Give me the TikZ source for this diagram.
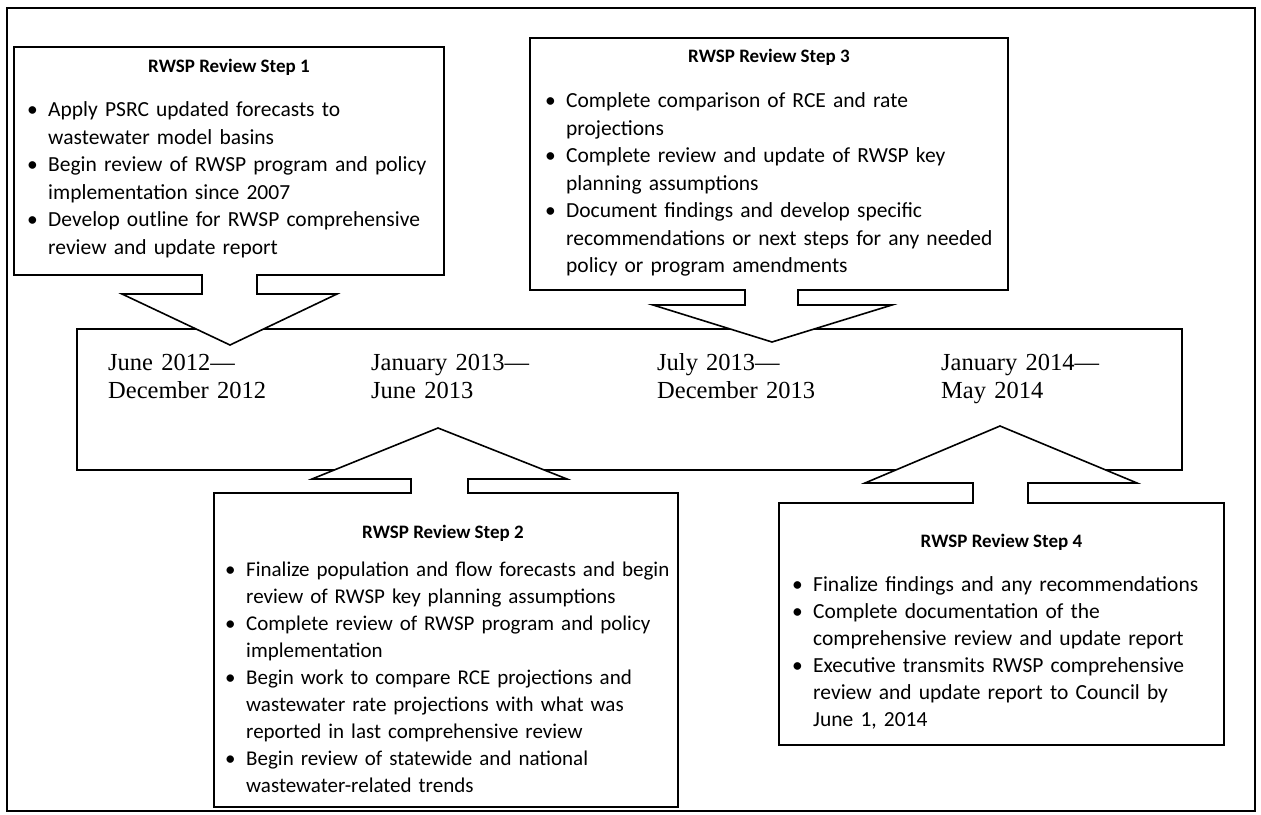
\documentclass[tikz,border=0pt]{standalone}
\usepackage{fontspec}
\newfontfamily\calfont{Carlito}
\newfontfamily\serfont{Liberation Serif}
\setlength{\parskip}{0pt}
\newcommand\bitem[1]{\par\hangindent=21pt\hangafter=1\noindent\makebox[21pt][l]{\textbullet}\vrule height 19pt depth 0pt width 0pt#1}
\newcommand\dstrut{\vrule height 20pt depth 0pt width 0pt}
\tikzset{
  shapeline/.style={draw=black, line width=1.6pt, fill=white, line join=miter},
  body/.style={anchor=north west, inner sep=0pt, text width=470pt, align=left,
    font=\calfont\fontsize{21.5}{27.5}\selectfont},
  bodytight/.style={body, font=\calfont\fontsize{21.5}{27}\selectfont},
  bodysmall/.style={body, font=\calfont\fontsize{21}{27}\selectfont},
  steptitle/.style={anchor=base, inner sep=0pt, font=\calfont\bfseries\fontsize{19}{22}\selectfont},
  datelabel/.style={anchor=north west, inner sep=0pt, text width=200pt, align=left,
    font=\serfont\fontsize{24.5}{28}\selectfont}
}
\begin{document}
\begin{tikzpicture}[x=1pt, y=-1pt]
\useasboundingbox[fill=white] (0,0) rectangle (1261,814);
% outer frame
\draw[line width=1.6pt] (7,8) rectangle (1255,811);
% timeline box
\draw[shapeline] (77,329) rectangle (1182,470);
% step 1 callout (down arrow)
\draw[shapeline] (14,47) -- (444,47) -- (444,275) -- (257,275) -- (257,294) -- (337,294)
  -- (230,345) -- (122,294) -- (202,294) -- (202,275) -- (14,275) -- cycle;
% step 3 callout (down arrow)
\draw[shapeline] (530,38) -- (1008,38) -- (1008,290) -- (798,290) -- (798,305) -- (892,305)
  -- (772,342) -- (653,305) -- (745,305) -- (745,290) -- (530,290) -- cycle;
% step 2 callout (up arrow)
\draw[shapeline] (214,807) -- (214,493) -- (411,493) -- (411,479) -- (312,479) -- (438,428)
  -- (567,479) -- (468,479) -- (468,493) -- (678,493) -- (678,807) -- cycle;
% step 4 callout (up arrow)
\draw[shapeline] (779,745) -- (779,503) -- (973,503) -- (973,483) -- (865,483) -- (1000,426)
  -- (1137,483) -- (1028,483) -- (1028,503) -- (1224,503) -- (1224,745) -- cycle;

% dates
\node[datelabel] (d1) at (108,350) {\dstrut June 2012\textemdash\newline December 2012};
\node[datelabel] (d2) at (371,350) {\dstrut January 2013\textemdash\newline June 2013};
\node[datelabel] (d3) at (657,350) {\dstrut July 2013\textemdash\newline December 2013};
\node[datelabel] (d4) at (941,350) {\dstrut January 2014\textemdash\newline May 2014};

% step 1
\node[steptitle] (t1) at (229,72) {RWSP Review Step 1};
\node[body] (b1) at (27,89) {%
\bitem{Apply PSRC updated forecasts to\newline wastewater model basins}
\bitem{Begin review of RWSP program and policy\newline implementation since 2007}
\bitem{Develop outline for RWSP comprehensive\newline review and update report}\par};

% step 3
\node[steptitle] (t3) at (769,62) {RWSP Review Step 3};
\node[body] (b3) at (545,80) {%
\bitem{Complete comparison of RCE and rate\newline projections}
\bitem{Complete review and update of RWSP key\newline planning assumptions}
\bitem{Document findings and develop specific\newline recommendations or next steps for any needed\newline policy or program amendments}\par};

% step 2
\node[steptitle] (t2) at (443,538) {RWSP Review Step 2};
\node[bodysmall] (b2) at (225,549) {%
\bitem{Finalize population and flow forecasts and begin\newline review of RWSP key planning assumptions}
\bitem{Complete review of RWSP program and policy\newline implementation}
\bitem{Begin work to compare RCE projections and\newline wastewater rate projections with what was\newline reported in last comprehensive review}
\bitem{Begin review of statewide and national\newline wastewater-related trends}\par};

% step 4
\node[steptitle] (t4) at (1001.5,547) {RWSP Review Step 4};
\node[bodytight] (b4) at (792,564) {%
\bitem{Finalize findings and any recommendations}
\bitem{Complete documentation of the\newline comprehensive review and update report}
\bitem{Executive transmits RWSP comprehensive\newline review and update report to Council by\newline June 1, 2014}\par};
\end{tikzpicture}
\end{document}
